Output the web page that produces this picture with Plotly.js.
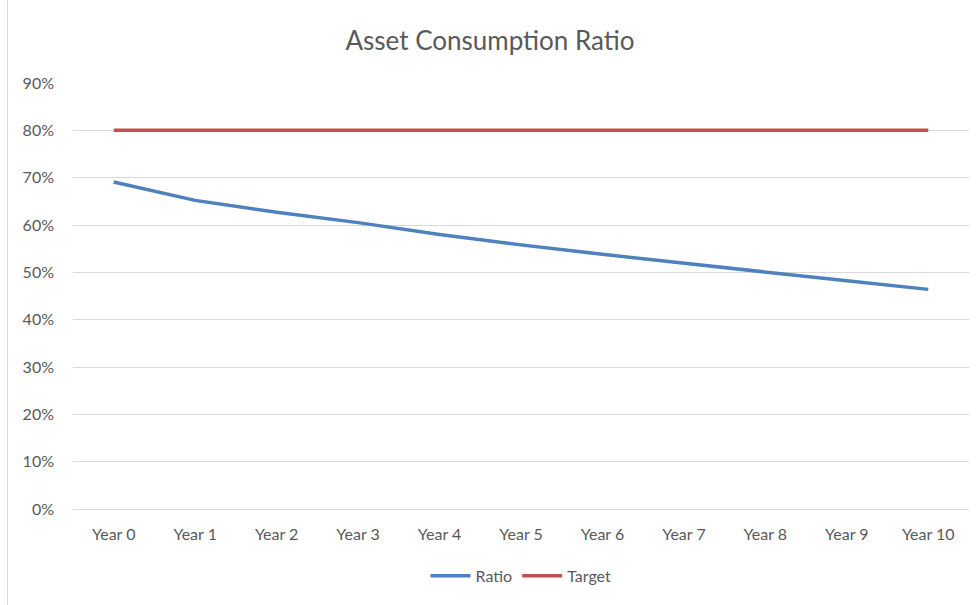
<!DOCTYPE html>
<html>
<head>
<meta charset="utf-8">
<script src="https://cdn.plot.ly/plotly-3.0.1.min.js"></script>
<style>
html,body{margin:0;padding:0;background:#fff;}
#wrap{position:relative;width:980px;height:605px;}
#border{position:absolute;left:7px;top:0;width:1px;height:605px;background:#d9d9d9;}
#chart{position:absolute;left:0;top:0;width:980px;height:605px;}
</style>
</head>
<body>
<div id="wrap"><div id="border"></div><div id="chart"></div></div>
<script>
const categories = ["Year 0","Year 1","Year 2","Year 3","Year 4","Year 5","Year 6","Year 7","Year 8","Year 9","Year 10"];
const ratio = [0.691, 0.652, 0.627, 0.605, 0.580, 0.558, 0.538, 0.519, 0.500, 0.482, 0.464];
const target = [0.80, 0.80, 0.80, 0.80, 0.80, 0.80, 0.80, 0.80, 0.80, 0.80, 0.80];
const yTicks = [0,0.1,0.2,0.3,0.4,0.5,0.6,0.7,0.8,0.9];

const font = "Lato, 'Open Sans', sans-serif";
const traces = [
  {x: categories, y: ratio, name: "Ratio", type: "scatter", mode: "lines",
   line: {color: "#4f81bd", width: 3.5}},
  {x: categories, y: target, name: "Target", type: "scatter", mode: "lines",
   line: {color: "#c0504d", width: 3.5}}
];
const layout = {
  width: 980, height: 605,
  paper_bgcolor: "rgba(0,0,0,0)", plot_bgcolor: "#fff",
  margin: {l: 73, r: 11, t: 83, b: 96},
  font: {family: font, color: "#595959", size: 16},
  title: {text: "Asset Consumption Ratio", x: 0.5, xanchor: "center", y: 0.932, yanchor: "middle",
          font: {family: font, size: 26, color: "#595959"}},
  xaxis: {type: "category", range: [-0.5, 10.5], showgrid: false, zeroline: false, showline: false,
          ticks: "", tickfont: {size: 16, color: "#595959"}, ticklabelstandoff: 14, fixedrange: true},
  yaxis: {range: [0, 0.9], tickvals: yTicks, tickformat: ".0%", showgrid: true, gridcolor: "#d9d9d9",
          gridwidth: 1, zeroline: true, zerolinecolor: "#d9d9d9", zerolinewidth: 1, showline: false,
          ticks: "", tickfont: {size: 16, color: "#595959"}, ticklabelstandoff: 18, fixedrange: true},
  showlegend: true,
  legend: {orientation: "h", x: 0.5, xanchor: "center", y: -0.157, yanchor: "middle",
           font: {size: 16, color: "#595959"}, itemwidth: 40, tracegroupgap: 0}
};
Plotly.newPlot("chart", traces, layout, {displayModeBar: false, staticPlot: true});
</script>
</body>
</html>
